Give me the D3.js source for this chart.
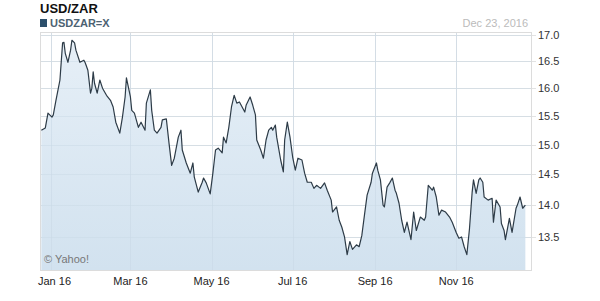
<!DOCTYPE html>
<html><head><meta charset="utf-8">
<script src="https://cdn.jsdelivr.net/npm/d3@7"></script>
<style>body{margin:0;background:#fff}svg{display:block;font-family:"Liberation Sans",Arial,sans-serif}</style>
</head><body><svg id="c" width="600" height="301"></svg>
<script>
const dates = ["2015-12-25","2015-12-28","2015-12-30","2016-01-02","2016-01-03","2016-01-05","2016-01-08","2016-01-10","2016-01-11","2016-01-12","2016-01-14","2016-01-16","2016-01-17","2016-01-19","2016-01-20","2016-01-23","2016-01-26","2016-01-27","2016-01-29","2016-01-31","2016-02-01","2016-02-02","2016-02-03","2016-02-05","2016-02-07","2016-02-09","2016-02-12","2016-02-15","2016-02-17","2016-02-19","2016-02-22","2016-02-24","2016-02-26","2016-02-27","2016-03-01","2016-03-02","2016-03-04","2016-03-07","2016-03-09","2016-03-12","2016-03-13","2016-03-16","2016-03-17","2016-03-19","2016-03-21","2016-03-24","2016-03-25","2016-03-28","2016-03-30","2016-04-01","2016-04-03","2016-04-06","2016-04-08","2016-04-09","2016-04-12","2016-04-15","2016-04-17","2016-04-18","2016-04-21","2016-04-24","2016-04-25","2016-04-27","2016-04-30","2016-05-02","2016-05-04","2016-05-06","2016-05-09","2016-05-10","2016-05-12","2016-05-14","2016-05-16","2016-05-18","2016-05-20","2016-05-22","2016-05-24","2016-05-26","2016-05-27","2016-05-30","2016-06-01","2016-06-03","2016-06-04","2016-06-07","2016-06-09","2016-06-11","2016-06-13","2016-06-15","2016-06-16","2016-06-18","2016-06-19","2016-06-22","2016-06-24","2016-06-25","2016-06-27","2016-06-29","2016-07-01","2016-07-03","2016-07-05","2016-07-08","2016-07-10","2016-07-12","2016-07-15","2016-07-17","2016-07-19","2016-07-22","2016-07-25","2016-07-27","2016-07-30","2016-07-31","2016-08-03","2016-08-05","2016-08-07","2016-08-09","2016-08-11","2016-08-13","2016-08-15","2016-08-18","2016-08-20","2016-08-22","2016-08-24","2016-08-26","2016-08-29","2016-08-30","2016-09-02","2016-09-03","2016-09-05","2016-09-07","2016-09-08","2016-09-10","2016-09-12","2016-09-14","2016-09-16","2016-09-17","2016-09-19","2016-09-21","2016-09-23","2016-09-25","2016-09-28","2016-09-30","2016-10-02","2016-10-05","2016-10-08","2016-10-09","2016-10-11","2016-10-14","2016-10-15","2016-10-17","2016-10-19","2016-10-21","2016-10-24","2016-10-27","2016-10-29","2016-11-01","2016-11-03","2016-11-05","2016-11-07","2016-11-09","2016-11-11","2016-11-13","2016-11-14","2016-11-16","2016-11-18","2016-11-19","2016-11-21","2016-11-22","2016-11-25","2016-11-28","2016-11-29","2016-12-01","2016-12-04","2016-12-05","2016-12-07","2016-12-08","2016-12-11","2016-12-13","2016-12-16","2016-12-17","2016-12-19","2016-12-21","2016-12-23"];
const rates = [15.25,15.29,15.55,15.48,15.52,15.78,16.15,16.85,16.86,16.65,16.48,16.71,16.90,16.85,16.71,16.48,16.52,16.47,16.33,15.91,16.00,16.30,16.09,15.91,16.15,16.00,15.87,15.78,15.66,15.39,15.20,15.48,15.84,16.19,15.84,15.60,15.55,15.30,15.39,15.25,15.73,15.97,15.60,15.25,15.20,15.30,15.43,15.45,15.03,14.65,14.77,15.13,15.25,14.91,14.69,14.52,14.69,14.46,14.21,14.37,14.44,14.36,14.18,14.52,14.91,14.94,14.86,15.13,15.03,15.30,15.66,15.87,15.73,15.75,15.66,15.57,15.69,15.84,15.69,15.52,15.08,14.91,14.77,15.08,15.25,15.30,15.25,15.34,15.13,14.74,14.54,15.08,15.39,15.13,14.79,14.57,14.77,14.74,14.52,14.37,14.37,14.27,14.32,14.27,14.36,14.24,14.08,13.89,13.97,13.76,13.65,13.50,13.23,13.43,13.31,13.38,13.35,13.52,13.84,14.16,14.37,14.52,14.69,14.57,14.41,14.00,13.97,14.29,14.36,14.44,14.24,14.19,14.03,13.76,13.57,13.73,13.46,13.89,13.60,13.81,13.76,13.81,14.32,14.24,14.29,14.13,13.84,13.92,13.89,13.81,13.73,13.57,13.48,13.50,13.35,13.23,13.63,14.21,14.41,14.19,14.41,14.44,14.37,14.13,14.08,14.11,13.73,14.08,13.97,13.71,13.60,13.46,13.79,13.57,13.95,14.00,14.13,13.95,14.00];
const yTicks = [13.5, 14.0, 14.5, 15.0, 15.5, 16.0, 16.5, 17.0];
const xTickDates = ["2016-01-01","2016-03-01","2016-05-01","2016-07-01","2016-09-01","2016-11-01"];
const xTickLabels = ["Jan 16","Mar 16","May 16","Jul 16","Sep 16","Nov 16"];

const parse = d3.timeParse("%Y-%m-%d");
const data = dates.map((d,i)=>({date:parse(d), v:rates[i]}));

const L=40, R=532, T=32, B=270;
const svg = d3.select("#c");
const x = d3.scaleTime().domain([parse("2015-12-24"), parse("2016-12-28")]).range([L,R]);
const y = d3.scaleLog().domain([13.0, 17.06]).range([B,T]);

const defs = svg.append("defs");
const g = defs.append("linearGradient").attr("id","fill").attr("x1",0).attr("x2",0).attr("y1",0).attr("y2",1);
g.append("stop").attr("offset","0%").attr("stop-color","#e6eff7");
g.append("stop").attr("offset","100%").attr("stop-color","#d2e2ef");

// horizontal grid
svg.append("g").selectAll("line").data(yTicks).join("line")
  .attr("x1",L).attr("x2",R+4).attr("y1",d=>Math.round(y(d))+0.5).attr("y2",d=>Math.round(y(d))+0.5)
  .attr("stroke","#e3e3e3");
// vertical grid
svg.append("g").selectAll("line").data(xTickDates).join("line")
  .attr("x1",d=>Math.round(x(parse(d)))+0.5).attr("x2",d=>Math.round(x(parse(d)))+0.5)
  .attr("y1",T).attr("y2",B).attr("stroke","#e3e3e3");

// area
const area = d3.area().x(d=>x(d.date)).y0(B).y1(d=>y(d.v));
svg.append("path").datum(data).attr("d",area).attr("fill","url(#fill)");
// grid over area (faint)
svg.append("g").selectAll("line").data(xTickDates).join("line")
  .attr("x1",d=>Math.round(x(parse(d)))+0.5).attr("x2",d=>Math.round(x(parse(d)))+0.5)
  .attr("y1",T).attr("y2",B).attr("stroke","#c9d9e6").attr("stroke-opacity",0.6);
svg.append("g").selectAll("line").data(yTicks).join("line")
  .attr("x1",L).attr("x2",R).attr("y1",d=>Math.round(y(d))+0.5).attr("y2",d=>Math.round(y(d))+0.5)
  .attr("stroke","#c9d9e6").attr("stroke-opacity",0.5);

const line = d3.line().x(d=>x(d.date)).y(d=>y(d.v));
svg.append("path").datum(data).attr("d",line).attr("fill","none")
  .attr("stroke","#2d3b47").attr("stroke-width",1.2).attr("stroke-linejoin","round");

// frame
svg.append("rect").attr("x",L+0.5).attr("y",T+0.5).attr("width",R-L-1).attr("height",B-T)
  .attr("fill","none").attr("stroke","#dcdcdc");

// y labels
svg.append("g").selectAll("text").data(yTicks).join("text")
  .attr("x",538).attr("y",d=>y(d)).attr("dy","0.35em")
  .attr("font-size",11).attr("fill","#333").text(d=>d.toFixed(1));

// x labels
svg.append("g").selectAll("text").data(xTickDates).join("text")
  .attr("x",(d,i)=> i===0 ? L-2 : x(parse(d))).attr("y",285)
  .attr("text-anchor",(d,i)=> i===0 ? "start":"middle")
  .attr("font-size",11).attr("fill","#222").text((d,i)=>xTickLabels[i]);

svg.append("text").attr("x",44).attr("y",263).attr("font-size",11).attr("fill","#777").text("© Yahoo!");

svg.append("text").attr("x",40).attr("y",13).attr("font-size",13).attr("font-weight","bold").attr("fill","#111").text("USD/ZAR");
svg.append("rect").attr("x",40).attr("y",19).attr("width",7).attr("height",8).attr("fill","#2c4f6b");
svg.append("text").attr("x",50).attr("y",27).attr("font-size",11).attr("font-weight","bold").attr("fill","#4d6272").text("USDZAR=X");
svg.append("text").attr("x",528).attr("y",27).attr("text-anchor","end").attr("font-size",11).attr("fill","#bbb").text("Dec 23, 2016");
</script></body></html>
